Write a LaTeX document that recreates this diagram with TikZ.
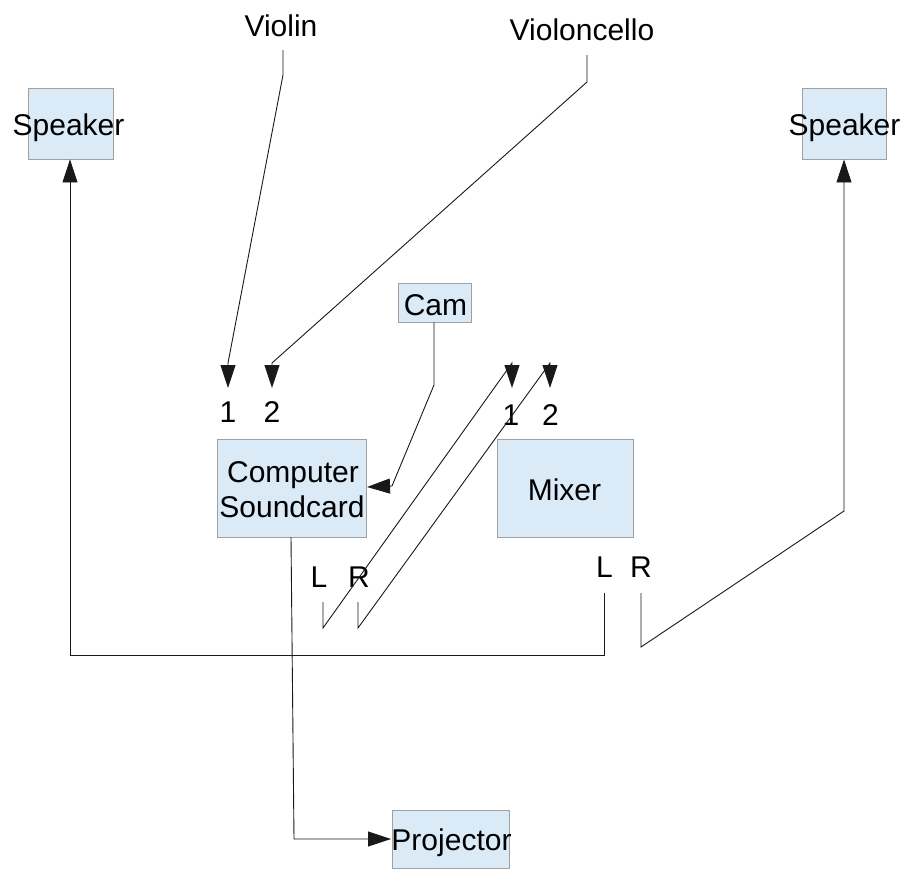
\documentclass[tikz,border=0pt]{standalone}
\usepackage{fontspec}
\setmainfont{Liberation Sans}
\usetikzlibrary{arrows.meta}
\definecolor{boxfill}{RGB}{218,234,247}
\definecolor{boxline}{RGB}{160,160,160}
\begin{document}
\begin{tikzpicture}[x=1pt,y=-1pt,
  box/.style={draw=boxline, fill=boxfill, line width=0.9pt, inner sep=0pt},
  lbl/.style={font=\fontsize{30}{36}\selectfont, inner sep=0pt, anchor=base},
  wire/.style={line width=0.9pt, draw=black!90},
  arr/.style={wire, -{Triangle[length=23pt,width=15pt]}}]
\useasboundingbox (0,0) rectangle (911,871);
\fill[white] (0,0) rectangle (911,871);

% boxes
\node[box, minimum width=85pt, minimum height=71pt] (spkL) at (70.5,123.5) {};
\node[box, minimum width=84pt, minimum height=71pt] (spkR) at (844,123.5) {};
\node[box, minimum width=73pt, minimum height=39pt] (cam) at (434.5,302.5) {};
\node[box, minimum width=149pt, minimum height=98pt] (comp) at (291.5,488) {};
\node[box, minimum width=136pt, minimum height=98pt] (mixer) at (565,488) {};
\node[box, minimum width=117pt, minimum height=58pt] (proj) at (450.5,839) {};

% texts
\node[lbl] (violin) at (281,36) {Violin};
\node[lbl] (cello) at (582,40) {Violoncello};
\node[lbl] (spkLt) at (68.5,135) {Speaker};
\node[lbl] (spkRt) at (844.5,135) {Speaker};
\node[lbl] (camt) at (435.5,315) {Cam};
\node[lbl] (compt1) at (293,482) {Computer};
\node[lbl] (compt2) at (292,517) {Soundcard};
\node[lbl] (mixt) at (564.5,500) {Mixer};
\node[lbl] (projt) at (451.5,850) {Projector};
\node[lbl] (in1) at (228,422) {1};
\node[lbl] (in2) at (272,422) {2};
\node[lbl] (mx1) at (511,425) {1};
\node[lbl] (mx2) at (550.5,425) {2};
\node[lbl] (outL) at (319,587) {L};
\node[lbl] (outR) at (359,587) {R};
\node[lbl] (mxL) at (604.5,577) {L};
\node[lbl] (mxR) at (641,577) {R};

% connector points
\coordinate (vA) at (283,50);
\coordinate (vB) at (283,75);
\coordinate (vC) at (228,363);
\coordinate (vT) at (228,388);
\coordinate (cA) at (587,55);
\coordinate (cB) at (587,82);
\coordinate (cC) at (272,363);
\coordinate (cT) at (272,388);
\coordinate (camB) at (434,385);
\coordinate (camC) at (392,486);
\coordinate (camT) at (367,487);
\coordinate (lA) at (323,602);
\coordinate (lB) at (323,628);
\coordinate (lC) at (512,363);
\coordinate (lT) at (512,388);
\coordinate (rA) at (358,602);
\coordinate (rB) at (358,628);
\coordinate (rC) at (550,363);
\coordinate (rT) at (550,388);
\coordinate (mlA) at (604,593);
\coordinate (mlB) at (604,655);
\coordinate (mlC) at (70,655);
\coordinate (mrA) at (641,593);
\coordinate (mrB) at (641,647);
\coordinate (mrC) at (844,511);
\coordinate (pA) at (291,537);
\coordinate (pB) at (294,839);
\coordinate (pT) at (391,839);

% connectors
\draw[arr] (vA) -- (vB) -- (vC) -- (vT);
\draw[arr] (cA) -- (cB) -- (cC) -- (cT);
\draw[arr] (cam.south -| camB) -- (camB) -- (camC) -- (camT);
\draw[arr] (lA) -- (lB) -- (lC) -- (lT);
\draw[arr] (rA) -- (rB) -- (rC) -- (rT);
\draw[arr] (mlA) -- (mlB) -- (mlC) -- (spkL.south -| mlC);
\draw[arr] (mrA) -- (mrB) -- (mrC) -- (spkR.south -| mrC);
\draw[arr] (pA) -- (pB) -- (pT);
\end{tikzpicture}
\end{document}
